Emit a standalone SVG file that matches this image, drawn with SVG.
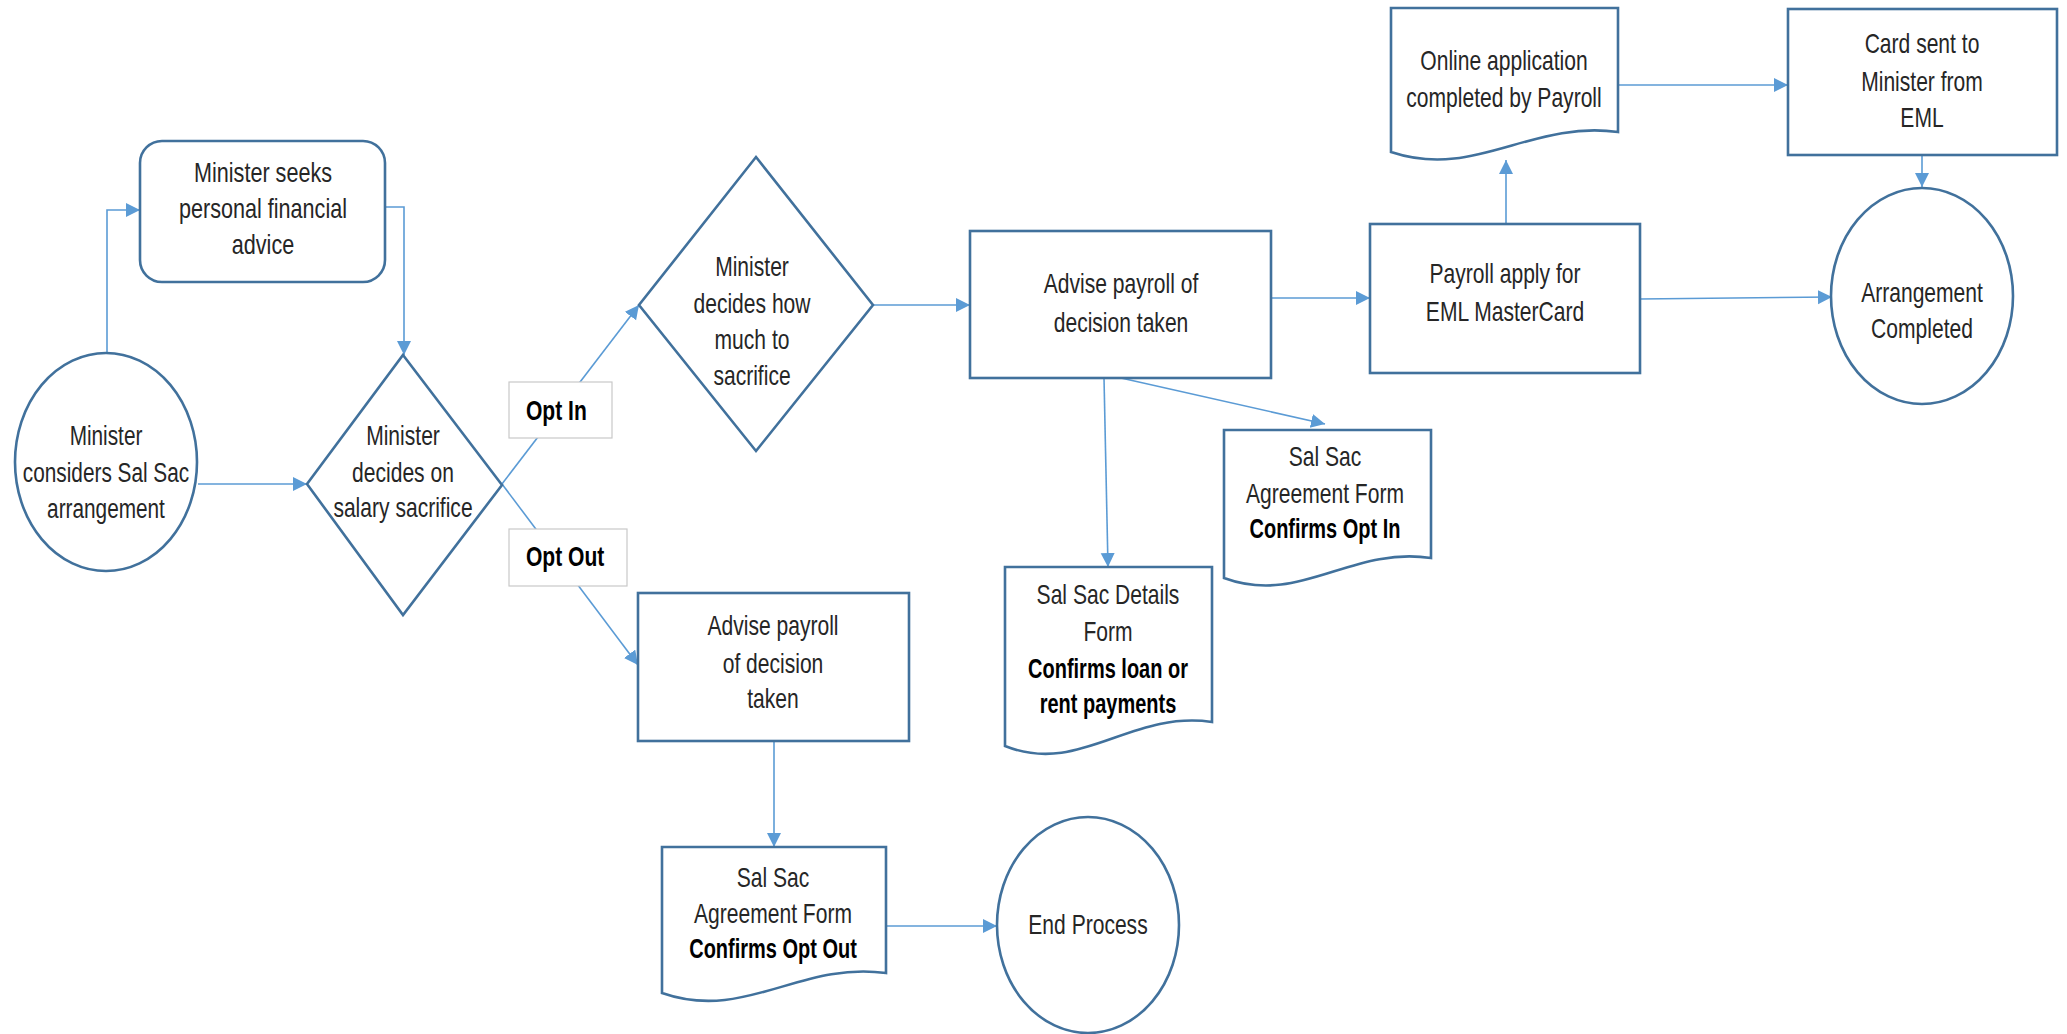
<svg xmlns="http://www.w3.org/2000/svg" width="2067" height="1034" viewBox="0 0 2067 1034">
<defs>
<marker id="arr" markerUnits="userSpaceOnUse" markerWidth="16" markerHeight="16" refX="14" refY="7" orient="auto">
<path d="M0,0 L14,7 L0,14 z" fill="#5b9bd5"/>
</marker>
<style>
.node{fill:#fff;stroke:#41719c;stroke-width:2.6}
.lbl{fill:#fff;stroke:#c9c9c9;stroke-width:1.2}
.con{fill:none;stroke:#5b9bd5;stroke-width:1.6;marker-end:url(#arr)}
text{font-family:"Liberation Sans",Arial,sans-serif;font-size:27px;fill:#262626;text-anchor:middle}
.b{font-weight:bold;fill:#000}
.s{text-anchor:start}
</style>
</defs>
<rect width="2067" height="1034" fill="#fff"/>
<g id="connectors">
<path class="con" d="M107,353 V210 H140"/>
<path class="con" d="M385,207 H404 V355"/>
<path class="con" d="M198,484 H307"/>
<path class="con" d="M502,484 L639,305"/>
<path class="con" d="M502,484 L638,665"/>
<path class="con" d="M873,305 H970"/>
<path class="con" d="M1104,378 L1108,567"/>
<path class="con" d="M1121,378 L1325,424"/>
<path class="con" d="M1271,298 H1370"/>
<path class="con" d="M1506,224 V160"/>
<path class="con" d="M1618,85 H1788"/>
<path class="con" d="M1922,155 V187"/>
<path class="con" d="M1640,299 L1832,297"/>
<path class="con" d="M774,741 V847"/>
<path class="con" d="M886,926 H997"/>
</g>
<g id="n-consider">
<ellipse class="node" cx="106" cy="462" rx="91" ry="109"/>
<text transform="translate(106,445) scale(0.77,1)">Minister</text>
<text transform="translate(106,482) scale(0.77,1)">considers Sal Sac</text>
<text transform="translate(106,518) scale(0.77,1)">arrangement</text>
</g>
<g id="n-advice">
<rect class="node" x="140" y="141" width="245" height="141" rx="22"/>
<text transform="translate(263,182) scale(0.8,1)">Minister seeks</text>
<text transform="translate(263,218) scale(0.8,1)">personal financial</text>
<text transform="translate(263,254) scale(0.8,1)">advice</text>
</g>
<g id="n-decide">
<polygon class="node" points="403,355 502,485 403,615 307,484"/>
<text transform="translate(403,445) scale(0.78,1)">Minister</text>
<text transform="translate(403,482) scale(0.78,1)">decides on</text>
<text transform="translate(403,517) scale(0.78,1)">salary sacrifice</text>
</g>
<g id="l-optin">
<rect class="lbl" x="509" y="382" width="103" height="56"/>
<text class="b s" transform="translate(526,420) scale(0.78,1)">Opt In</text>
</g>
<g id="l-optout">
<rect class="lbl" x="509" y="529" width="118" height="57"/>
<text class="b s" transform="translate(526,566) scale(0.78,1)">Opt Out</text>
</g>
<g id="n-howmuch">
<polygon class="node" points="756,157 873,305 756,451 639,305"/>
<text transform="translate(752,276) scale(0.78,1)">Minister</text>
<text transform="translate(752,313) scale(0.78,1)">decides how</text>
<text transform="translate(752,349) scale(0.78,1)">much to</text>
<text transform="translate(752,385) scale(0.78,1)">sacrifice</text>
</g>
<g id="n-advise-in">
<rect class="node" x="970" y="231" width="301" height="147"/>
<text transform="translate(1121,293) scale(0.78,1)">Advise payroll of</text>
<text transform="translate(1121,332) scale(0.78,1)">decision taken</text>
</g>
<g id="n-agree-in">
<path class="node" d="M1224,430 H1431 V558 C1350,546 1300,606 1224,578 Z"/>
<text transform="translate(1325,466) scale(0.78,1)">Sal Sac</text>
<text transform="translate(1325,503) scale(0.78,1)">Agreement Form</text>
<text class="b" transform="translate(1325,538) scale(0.74,1)">Confirms Opt In</text>
</g>
<g id="n-details">
<path class="node" d="M1005,567 H1212 V722 C1130,710 1080,776 1005,746 Z"/>
<text transform="translate(1108,604) scale(0.78,1)">Sal Sac Details</text>
<text transform="translate(1108,641) scale(0.78,1)">Form</text>
<text class="b" transform="translate(1108,678) scale(0.74,1)">Confirms loan or</text>
<text class="b" transform="translate(1108,713) scale(0.74,1)">rent payments</text>
</g>
<g id="n-payroll">
<rect class="node" x="1370" y="224" width="270" height="149"/>
<text transform="translate(1505,283) scale(0.78,1)">Payroll apply for</text>
<text transform="translate(1505,321) scale(0.78,1)">EML MasterCard</text>
</g>
<g id="n-online">
<path class="node" d="M1391,8 H1618 V132 C1530,120 1475,180 1391,152 Z"/>
<text transform="translate(1504,70) scale(0.78,1)">Online application</text>
<text transform="translate(1504,107) scale(0.78,1)">completed by Payroll</text>
</g>
<g id="n-card">
<rect class="node" x="1788" y="9" width="269" height="146"/>
<text transform="translate(1922,53) scale(0.78,1)">Card sent to</text>
<text transform="translate(1922,91) scale(0.78,1)">Minister from</text>
<text transform="translate(1922,127) scale(0.78,1)">EML</text>
</g>
<g id="n-complete">
<ellipse class="node" cx="1922" cy="296" rx="91" ry="108"/>
<text transform="translate(1922,302) scale(0.78,1)">Arrangement</text>
<text transform="translate(1922,338) scale(0.78,1)">Completed</text>
</g>
<g id="n-advise-out">
<rect class="node" x="638" y="593" width="271" height="148"/>
<text transform="translate(773,635) scale(0.78,1)">Advise payroll</text>
<text transform="translate(773,673) scale(0.78,1)">of decision</text>
<text transform="translate(773,708) scale(0.78,1)">taken</text>
</g>
<g id="n-agree-out">
<path class="node" d="M662,847 H886 V973 C800,961 745,1022 662,993 Z"/>
<text transform="translate(773,887) scale(0.78,1)">Sal Sac</text>
<text transform="translate(773,923) scale(0.78,1)">Agreement Form</text>
<text class="b" transform="translate(773,958) scale(0.74,1)">Confirms Opt Out</text>
</g>
<g id="n-end">
<ellipse class="node" cx="1088" cy="925" rx="91" ry="108"/>
<text transform="translate(1088,934) scale(0.78,1)">End Process</text>
</g>
</svg>
